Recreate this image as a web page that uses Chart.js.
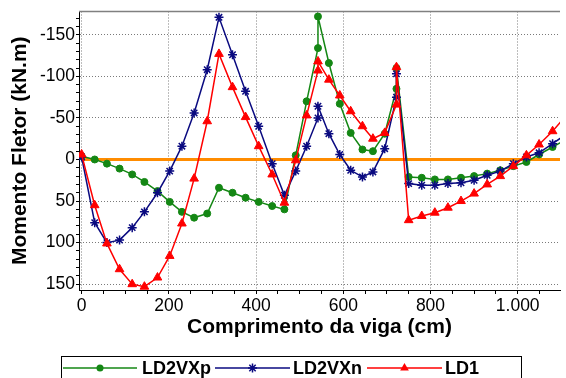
<!DOCTYPE html>
<html>
<head>
<meta charset="utf-8">
<script src="https://cdn.jsdelivr.net/npm/chart.js@4/dist/chart.umd.min.js"></script>
<style>
  body { margin: 0; background: #fff; }
  #wrap { width: 566px; height: 378px; }
</style>
</head>
<body>
<div id="wrap"><canvas id="my-chart" width="566" height="378"></canvas></div>
<script>
// posicoes ao longo da viga (cm), iguais para as tres series
var posicoes = [0, 30, 58, 87, 116, 144, 174, 202, 230, 258, 288, 315, 346, 376, 406, 437, 465,
  491, 516, 542, 542, 567, 592, 617, 644, 668, 695, 722, 722,
  750, 780, 810, 840, 870, 900, 930, 960, 990, 1020, 1049, 1080, 1110];

// momentos (kN.m)
var ld2vxp = [-4, 0, 5, 11, 18, 27, 38, 51, 63, 70, 65, 34, 40, 46, 51, 56, 60,
  -5, -70, -134, -172, -116, -67, -32, -12, -10, -31, -85, -110,
  21, 22, 24, 24, 22, 20, 17, 13, 8, 3, -6, -15, -24];
var ld2vxn = [-3, 76, 100, 97, 82, 63, 40, 14, -16, -56, -108, -171, -126, -82, -40, 5, 43,
  14, -16, -50, -64, -31, -6, 13, 21, 15, -13, -75, -103,
  29, 31, 31, 29, 28, 25, 19, 14, 5, -3, -8, -19, -30];
var ld1 = [-6, 55, 101, 132, 150, 153, 142, 116, 77, 23, -46, -127, -87, -51, -16, 18, 52,
  1, -53, -107, -118, -96, -77, -58, -40, -25, -32, -66, -111,
  73, 68, 64, 58, 50, 41, 30, 20, 8, -5, -18, -34, -52];

var zeroX = [0, 1110];
var zeroY = [0, 0];

var verde = 'rgb(20,135,20)';
var azul = '#0a0a80';
var vermelho = '#ff0000';
var laranja = '#ff8c00';

var pontos = function(xs, ys) {
  var out = [];
  for (var i = 0; i < xs.length; i++) out.push({x: xs[i], y: ys[i]});
  return out;
};

var marker = function(ctx, style, x, y, r, color) {
  ctx.save();
  ctx.fillStyle = color;
  ctx.strokeStyle = color;
  ctx.lineWidth = 1.5;
  ctx.beginPath();
  if (style === 'circle') {
    ctx.arc(x, y, r, 0, Math.PI * 2);
    ctx.fill();
  } else if (style === 'triangle') {
    for (var k = 0; k < 3; k++) {
      var a = k * 2 * Math.PI / 3;
      var px = x + Math.sin(a) * r, py = y - Math.cos(a) * r;
      if (k === 0) ctx.moveTo(px, py); else ctx.lineTo(px, py);
    }
    ctx.closePath();
    ctx.fill();
  } else {
    for (var k = 0; k < 4; k++) {
      var a = k * Math.PI / 4;
      ctx.moveTo(x - Math.cos(a) * r, y - Math.sin(a) * r);
      ctx.lineTo(x + Math.cos(a) * r, y + Math.sin(a) * r);
    }
    ctx.stroke();
  }
  ctx.restore();
};

// legenda com caixa e linha+marcador, como no original
var legendaBox = {
  id: 'legendaBox',
  afterDraw: function(chart) {
    var ctx = chart.ctx;
    var itens = [
      {ds: 0, x0: 63, x1: 137, tx: 142, style: 'circle', r: 3.5},
      {ds: 1, x0: 215, x1: 290, tx: 293, style: 'star', r: 4.5},
      {ds: 2, x0: 367, x1: 442, tx: 445, style: 'triangle', r: 5}
    ];
    ctx.save();
    ctx.strokeStyle = '#000';
    ctx.lineWidth = 1;
    ctx.strokeRect(61.5, 356.5, 460, 40);
    ctx.font = 'bold 18px "Liberation Sans", Arial, sans-serif';
    ctx.textBaseline = 'middle';
    ctx.textAlign = 'left';
    for (var i = 0; i < itens.length; i++) {
      var it = itens[i];
      var ds = chart.data.datasets[it.ds];
      var y = 368;
      ctx.strokeStyle = ds.borderColor;
      ctx.lineWidth = 1.5;
      ctx.beginPath();
      ctx.moveTo(it.x0, y);
      ctx.lineTo(it.x1, y);
      ctx.stroke();
      marker(ctx, it.style, (it.x0 + it.x1) / 2, y, it.r, ds.borderColor);
      ctx.fillStyle = '#000';
      ctx.fillText(ds.label, it.tx, y + 1);
    }
    // borda superior cinza do grafico
    var a = chart.chartArea;
    ctx.strokeStyle = '#808080';
    ctx.lineWidth = 1.5;
    ctx.beginPath();
    ctx.moveTo(a.left, a.top);
    ctx.lineTo(a.right, a.top);
    ctx.stroke();
    ctx.restore();
  }
};

var fonte = '"Liberation Sans", Arial, sans-serif';

var ctx = document.getElementById('my-chart');
var myChart = new Chart(ctx, {
  type: 'scatter',
  data: {
    datasets: [
      {label: 'LD2VXp', data: pontos(posicoes, ld2vxp), showLine: true, borderColor: verde, backgroundColor: verde,
        borderWidth: 1.5, pointStyle: 'circle', pointRadius: 3.5, pointBorderWidth: 1, order: 2},
      {label: 'LD2VXn', data: pontos(posicoes, ld2vxn), showLine: true, borderColor: azul, backgroundColor: azul,
        borderWidth: 1.5, pointStyle: 'star', pointRadius: 4.5, pointBorderWidth: 1.5, order: 1},
      {label: 'LD1', data: pontos(posicoes, ld1), showLine: true, borderColor: vermelho, backgroundColor: vermelho,
        borderWidth: 1.5, pointStyle: 'triangle', pointRadius: 5, pointBorderWidth: 1, order: 0},
      {label: 'zero', data: pontos(zeroX, zeroY), showLine: true, borderColor: laranja, borderWidth: 3,
        pointRadius: 0, order: 3}
    ]
  },
  options: {
    responsive: false,
    animation: false,
    layout: {padding: {top: 11, left: 0, right: 0, bottom: 40}},
    plugins: {legend: {display: false}, tooltip: {enabled: false}},
    scales: {
      x: {
        type: 'linear',
        min: -6, max: 1097,
        afterFit: function(s) { s.height = 48; },
        ticks: {
          stepSize: 50, includeBounds: false, autoSkip: false, maxRotation: 0, padding: 2,
          color: '#000', font: {family: fonte, size: 17.5},
          callback: function(v) {
            if (v % 200 !== 0) return '';
            return v >= 1000 ? String(v).replace(/(\d)(\d{3})$/, '$1.$2') : String(v);
          }
        },
        grid: {
          color: function(c) { return c.tick && c.tick.value % 200 === 0 ? '#7a7a7a' : 'rgba(0,0,0,0)'; },
          tickColor: '#000', tickLength: 4, lineWidth: 1
        },
        border: {color: '#000', width: 1, dash: [1, 2]},
        title: {display: true, text: 'Comprimento da viga (cm)', color: '#000',
          font: {family: fonte, size: 21, weight: 'bold', lineHeight: 1}, padding: {top: 0, bottom: 0}}
      },
      y: {
        type: 'linear',
        reverse: true,
        min: -178, max: 157,
        afterFit: function(s) { s.width = 79; },
        ticks: {
          stepSize: 10, includeBounds: false, autoSkip: false, padding: 1,
          color: '#000', font: {family: fonte, size: 17.5},
          callback: function(v) { return v % 50 === 0 ? String(v) : ''; }
        },
        grid: {
          color: function(c) { return c.tick && c.tick.value % 50 === 0 ? '#7a7a7a' : 'rgba(0,0,0,0)'; },
          tickColor: '#000', tickLength: 3, lineWidth: 1
        },
        border: {color: '#000', width: 1, dash: [1, 2]},
        title: {display: true, text: 'Momento Fletor (kN.m)', color: '#000',
          font: {family: fonte, size: 21, weight: 'bold', lineHeight: 1}, padding: {top: 9.5, bottom: 0}}
      }
    }
  },
  plugins: [legendaBox]
});
</script>
</body>
</html>
